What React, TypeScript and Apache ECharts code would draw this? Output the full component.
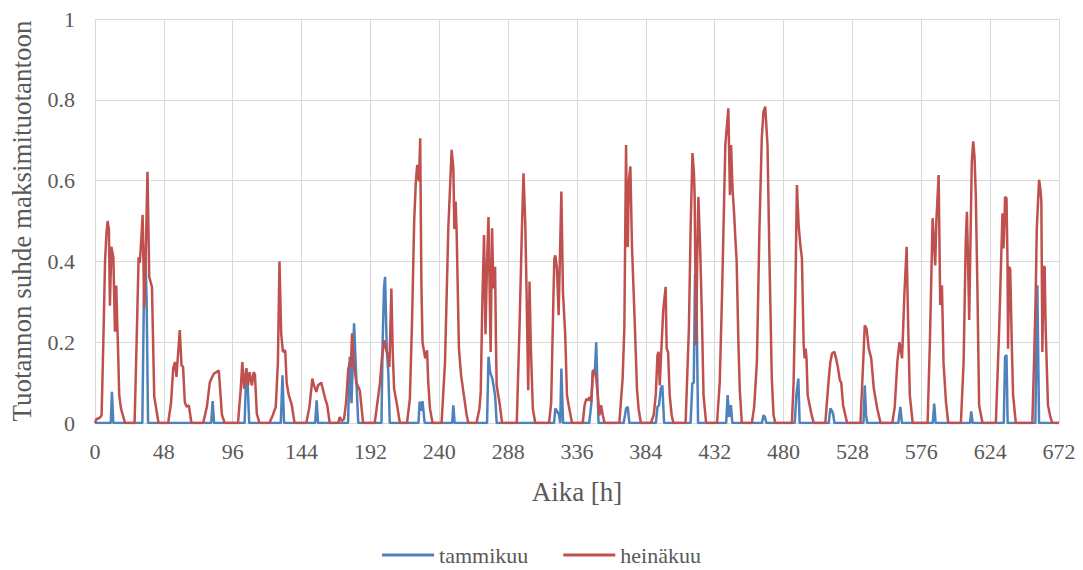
import React, { useEffect, useRef } from "react";
import * as echarts from "echarts";

const seriesNames = ["tammikuu", "heinäkuu"];
const xTitle = "Aika [h]";
const yTitle = "Tuotannon suhde maksimituotantoon";
const xMax = 672;
const xStep = 48;
const yMax = 1;
const yStep = 0.2;

// [hour, ratio]
const tammikuu: [number, number][] = [
  [0, 0], [11, 0], [11.8, 0.077], [12.8, 0], [33, 0], [34, 0.29], [35, 0.436], [36, 0.3], [37, 0],
  [81, 0], [82, 0.054], [83, 0], [104.3, 0], [105.5, 0.135], [106.5, 0.09], [107.5, 0],
  [129.5, 0], [130.7, 0.118], [131.8, 0], [153.5, 0], [154.5, 0.056], [155.5, 0],
  [176.4, 0], [177.6, 0.164], [178.8, 0.049], [180.6, 0.247], [182.3, 0.098], [183.5, 0],
  [199.7, 0], [200.5, 0.2], [201.5, 0.337], [202.2, 0.362], [203.4, 0.18], [204.5, 0.123], [205.5, 0],
  [225.5, 0], [226.3, 0.053], [227.3, 0.03], [228.3, 0.054], [229.8, 0],
  [249, 0], [249.8, 0.044], [250.7, 0],
  [273.3, 0], [274.3, 0.164], [275.4, 0.126], [277, 0.11], [278.9, 0.069], [280, 0],
  [320, 0], [320.9, 0.036], [322, 0.03], [323.5, 0.02], [324.3, 0], [325.1, 0.135], [326.3, 0],
  [344.5, 0], [345.9, 0.044], [347, 0.13], [348.5, 0.13], [349.4, 0.2], [350.2, 0.1], [351, 0],
  [368.5, 0], [369.5, 0.02], [370.2, 0.036], [371.4, 0.04], [372.5, 0],
  [391, 0], [392.1, 0.04], [393.2, 0.044], [394.4, 0.085], [395.5, 0.093], [396.7, 0],
  [415.2, 0], [416.4, 0.098], [417.4, 0.1], [418.3, 0.37], [419.3, 0.3], [420.4, 0],
  [440, 0], [441, 0.069], [442, 0.015], [443.3, 0.044], [444.3, 0],
  [465, 0], [466, 0.019], [467, 0.015], [468, 0],
  [487.8, 0], [488.9, 0.069], [490.3, 0.11], [491.2, 0],
  [511.5, 0], [512.6, 0.036], [513.8, 0.03], [514.5, 0.023], [515.5, 0],
  [535.7, 0], [536.6, 0.093], [537.5, 0.02], [538.3, 0],
  [560, 0], [561.4, 0.04], [562.5, 0], [584, 0], [585, 0.048], [586, 0],
  [610, 0], [610.8, 0.029], [611.8, 0],
  [633.5, 0], [634.4, 0.164], [635.4, 0.168], [636.2, 0],
  [655.5, 0], [656.9, 0.341], [658.1, 0], [672, 0],
];

const heinakuu: [number, number][] = [
  [0, 0], [1, 0.01], [2.3, 0.011], [3.9, 0.015], [4.6, 0.02], [5.8, 0.2], [7, 0.4], [8, 0.47], [8.8, 0.5],
  [9.7, 0.48], [10.4, 0.29], [11.4, 0.436], [12.8, 0.41], [13.9, 0.226], [14.8, 0.34], [16, 0.19],
  [16.9, 0.068], [18.1, 0.036], [20.9, 0],
  [27.6, 0], [29, 0.2], [30.4, 0.41], [31.2, 0.396], [32.2, 0.45], [33.2, 0.515], [34.3, 0.284],
  [35.4, 0.428], [36.6, 0.622], [37.8, 0.362], [39.7, 0.337], [41.3, 0.065], [44.3, 0],
  [51, 0], [53, 0.05], [54.5, 0.135], [55.7, 0.151], [56.8, 0.114], [57.5, 0.151], [59.1, 0.23],
  [60.3, 0.143], [61.4, 0.139], [62.6, 0.052], [63.8, 0.04], [65.4, 0.044], [67.2, 0],
  [75.4, 0], [78, 0.04], [80, 0.1], [81.2, 0.11], [82.8, 0.122], [84.6, 0.126], [86.3, 0.13],
  [87.5, 0.07], [88.5, 0.02], [90.4, 0],
  [99.7, 0], [101.5, 0.08], [102.7, 0.151], [103.9, 0.085], [105.5, 0.135], [106.7, 0.093],
  [107.8, 0.126], [109.4, 0.093], [110.6, 0.126], [111.5, 0.12], [112.8, 0.023], [114.6, 0],
  [121.6, 0], [124, 0.02], [126, 0.04], [127.5, 0.15], [128.6, 0.4], [129.8, 0.22], [131, 0.176],
  [132.6, 0.18], [133.6, 0.1], [135, 0.07], [137.2, 0.044], [139.1, 0],
  [147.3, 0], [149.5, 0.04], [151.5, 0.11], [152.6, 0.093], [154.3, 0.077], [155.4, 0.093],
  [157.7, 0.1], [159.6, 0.073], [160.5, 0.06], [161.9, 0.044], [163.6, 0],
  [169.5, 0], [170.6, 0.015], [172, 0.005], [173.6, 0.01], [175, 0.05], [176.5, 0.131], [177.6, 0.15],
  [178.3, 0.14], [179.2, 0.222], [180.4, 0.147], [182.3, 0.098], [184.6, 0.081], [186.9, 0],
  [195, 0], [198.6, 0.098], [200, 0.16], [201.5, 0.205], [203.1, 0.18], [204.5, 0.164], [205.2, 0.139],
  [206.6, 0.333], [207.5, 0.18], [208.5, 0.085], [210.6, 0.044], [212.5, 0],
  [217.5, 0], [219.5, 0.06], [221, 0.25], [222.5, 0.5], [223.7, 0.6], [224.6, 0.639], [225.8, 0.598],
  [226.7, 0.705], [227.5, 0.35], [228.3, 0.2], [230.2, 0.16], [231.5, 0.18], [232.3, 0.1],
  [233.5, 0.036], [235.3, 0],
  [241.6, 0], [244, 0.151], [246.3, 0.482], [248.6, 0.676], [249.8, 0.63], [250.5, 0.48], [251.4, 0.548],
  [252.1, 0.474], [253.7, 0.184], [255.2, 0.118], [256.8, 0.077], [259.1, 0.019], [260.3, 0],
  [266, 0], [268, 0.036], [268.9, 0.077], [270, 0.3], [271.2, 0.465], [272.2, 0.22], [273.3, 0.4],
  [274.3, 0.51], [275.8, 0.176], [276.8, 0.482], [277.7, 0.333], [278.9, 0.387], [279.5, 0.2],
  [280, 0.093], [281.9, 0.052], [283.8, 0],
  [294, 0], [295.9, 0.234], [297.6, 0.48], [298.7, 0.618], [299.9, 0.498], [300.6, 0.374], [302, 0.081],
  [302.9, 0.35], [303.8, 0.19], [305.2, 0.036], [306.9, 0],
  [316.5, 0], [318, 0.05], [319.5, 0.3], [320.2, 0.407], [320.9, 0.415], [322, 0.383], [323.2, 0.267],
  [325.1, 0.573], [326.2, 0.325], [327.8, 0.217], [329, 0.069], [330.2, 0.044], [332.5, 0],
  [340, 0], [341.3, 0.044], [342.5, 0.06], [343.6, 0.056], [344.8, 0.064], [345.9, 0.052], [347.1, 0.126],
  [348.2, 0.13], [349.4, 0.11], [350.5, 0.069], [351.7, 0.019], [352.8, 0.044], [354, 0.019], [355.2, 0],
  [365.5, 0], [367.8, 0.11], [369, 0.234], [370.2, 0.688], [370.9, 0.44], [371.4, 0.436], [372.1, 0.598],
  [373.2, 0.635], [374.3, 0.44], [376.4, 0.234], [377.8, 0.085], [378.9, 0.036], [380.5, 0],
  [387.5, 0], [389.5, 0.02], [390.9, 0.069], [392.1, 0.168], [392.8, 0.176], [393.7, 0.093], [394.6, 0.168],
  [396.2, 0.283], [397.8, 0.337], [398.5, 0.184], [399.5, 0.176], [400.6, 0.069], [402, 0.019], [403.2, 0],
  [411.7, 0], [414, 0.234], [415.2, 0.48], [416.5, 0.668], [417.5, 0.62], [418, 0.564], [419, 0.193],
  [419.8, 0.4], [420.6, 0.56], [421.8, 0.44], [423, 0.275], [424.2, 0.069], [426, 0],
  [433.6, 0], [435.5, 0.1], [437.1, 0.317], [439.4, 0.688], [441.5, 0.779], [442.6, 0.564], [443.4, 0.688],
  [444.4, 0.581], [445.5, 0.52], [446.5, 0.45], [447.3, 0.4], [448.5, 0.2], [449.5, 0.08], [450.9, 0],
  [457.9, 0], [459.5, 0.04], [461.4, 0.151], [463.2, 0.483], [464.8, 0.705], [466, 0.77], [467.2, 0.783],
  [468.8, 0.688], [470.2, 0.4], [471.8, 0.11], [473, 0.02], [474.2, 0],
  [485.8, 0], [487, 0.1], [488.2, 0.317], [489.3, 0.589], [490.5, 0.49], [491.7, 0.44], [492.8, 0.407],
  [494, 0.193], [494.7, 0.16], [495.4, 0.184], [496, 0.16], [496.8, 0.069], [499.1, 0.027], [501, 0],
  [509.1, 0], [511.5, 0.11], [512.6, 0.151], [513.8, 0.172], [515.4, 0.176], [516.6, 0.16], [518, 0.135],
  [519.2, 0.106], [520.2, 0.1], [521.5, 0.044], [524.3, 0],
  [533.6, 0], [535.5, 0.151], [536.6, 0.242], [537.8, 0.234], [539.4, 0.184], [541.1, 0.16],
  [542.9, 0.085], [545.3, 0.036], [547.6, 0],
  [555.8, 0], [557.5, 0.04], [559.3, 0.151], [560.8, 0.2], [562.6, 0.16], [564.2, 0.317], [565.8, 0.436],
  [566.9, 0.234], [568, 0.069], [570, 0],
  [580.4, 0], [582, 0.2], [583.9, 0.507], [584.8, 0.45], [585.7, 0.39], [586.5, 0.5], [588.1, 0.614],
  [589.2, 0.292], [590.4, 0.341], [591.5, 0.15], [593.2, 0.052], [594.8, 0],
  [603.6, 0], [605.5, 0.15], [607, 0.45], [607.8, 0.523], [608.6, 0.4], [609.4, 0.255], [610.3, 0.45],
  [611.2, 0.647], [612.2, 0.697], [613.1, 0.66], [614, 0.564], [615.2, 0.317], [616.3, 0.044], [618.7, 0],
  [628, 0], [630.3, 0.234], [632.6, 0.519], [633.3, 0.432], [634, 0.5], [634.4, 0.56], [635.4, 0.556],
  [636.1, 0.4], [636.5, 0.184], [637.2, 0.387], [638, 0.38], [639.1, 0.193], [640, 0.069], [641.9, 0],
  [653.4, 0], [654.6, 0.15], [655.8, 0.325], [656.5, 0.48], [658.1, 0.602], [659, 0.58], [659.7, 0.548],
  [660.4, 0.176], [661.3, 0.387], [662, 0.387], [662.7, 0.234], [664.3, 0.044], [666, 0.015],
  [667.3, 0], [672, 0],
];

const colors = ["#4F81BD", "#C0504D"];
const FONT = "Liberation Serif";
const TEXT = "#595959";
const GRID = "#D9D9D9";

export default function App() {
  const ref = useRef<HTMLDivElement>(null);
  useEffect(() => {
    if (!ref.current) return;
    const chart = echarts.init(ref.current, null, { renderer: "svg" });
    chart.setOption({
      animation: false,
      backgroundColor: "#ffffff",
      textStyle: { fontFamily: FONT, color: TEXT },
      grid: { left: 93, right: 24, top: 19, bottom: 147, containLabel: false },
      legend: {
        top: 539,
        left: "center",
        icon: "rect",
        itemWidth: 52,
        itemHeight: 3,
        itemGap: 35,
        textStyle: { fontFamily: FONT, fontSize: 22, color: TEXT },
        data: seriesNames,
      },
      xAxis: {
        type: "value",
        min: 0,
        max: xMax,
        interval: xStep,
        name: xTitle,
        nameLocation: "middle",
        nameGap: 55,
        nameTextStyle: { fontFamily: FONT, fontSize: 27, color: TEXT },
        axisLine: { show: true, lineStyle: { color: GRID, width: 1 } },
        axisTick: { show: false },
        axisLabel: { fontFamily: FONT, fontSize: 22, color: TEXT, margin: 17 },
        splitLine: { show: true, lineStyle: { color: GRID, width: 1 } },
      },
      yAxis: {
        type: "value",
        min: 0,
        max: yMax,
        interval: yStep,
        name: yTitle,
        nameLocation: "middle",
        nameGap: 60,
        nameTextStyle: { fontFamily: FONT, fontSize: 27, color: TEXT },
        axisLine: { show: false },
        axisTick: { show: false },
        axisLabel: { fontFamily: FONT, fontSize: 22, color: TEXT, margin: 20 },
        splitLine: { show: true, lineStyle: { color: GRID, width: 1 } },
      },
      series: [
        {
          name: seriesNames[0],
          type: "line",
          data: tammikuu,
          showSymbol: false,
          symbol: "none",
          lineStyle: { color: colors[0], width: 2.5 },
          itemStyle: { color: colors[0] },
        },
        {
          name: seriesNames[1],
          type: "line",
          data: heinakuu,
          showSymbol: false,
          symbol: "none",
          lineStyle: { color: colors[1], width: 2.5 },
          itemStyle: { color: colors[1] },
        },
      ],
    });
    return () => chart.dispose();
  }, []);
  return (
    <div
      ref={ref}
      style={{ position: "fixed", left: 0, top: 0, width: 1083, height: 570, background: "#fff" }}
    />
  );
}
